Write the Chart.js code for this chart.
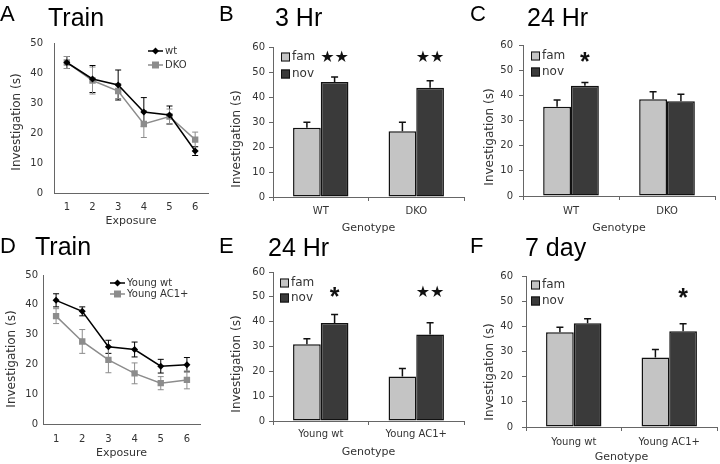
<!DOCTYPE html>
<html>
<head>
<meta charset="utf-8">
<script src="https://cdn.jsdelivr.net/npm/chart.js@4.4.1/dist/chart.umd.min.js"></script>
<style>
  html, body { margin: 0; padding: 0; background: #fff; }
  #fig { position: relative; width: 720px; height: 464px; overflow: hidden; background: #fff; }
  #fig canvas { position: absolute; }
  .lbl { position: absolute; color: #000; white-space: nowrap; line-height: 1; font-family: "Liberation Sans", Arial, sans-serif; }
  .ytitle { position: absolute; font-family: "DejaVu Sans", Verdana, sans-serif; font-size: 12px; color: #333;
            white-space: nowrap; transform: translate(-50%, -50%) rotate(-90deg); }
</style>
</head>
<body>
<div id="fig">
  <canvas id="panelA" width="240" height="240" style="left:0;top:0"></canvas>
  <canvas id="panelB" width="240" height="240" style="left:240px;top:0"></canvas>
  <canvas id="panelC" width="240" height="240" style="left:480px;top:0"></canvas>
  <canvas id="panelD" width="240" height="240" style="left:0;top:232px"></canvas>
  <canvas id="panelE" width="240" height="240" style="left:240px;top:232px"></canvas>
  <canvas id="panelF" width="240" height="240" style="left:480px;top:232px"></canvas>
</div>
<script>
// ---- data ----
const exposures = ['1', '2', '3', '4', '5', '6'];

// A: Train (wt vs DKO)
const trainWt = [43.5, 38, 36, 27, 26, 14];
const trainWtErr = [2, 4.5, 5, 4.8, 3, 1.5];
const trainDko = [43.5, 37.5, 34, 23, 25.5, 17.8];
const trainDkoErr = [2, 4.5, 2.5, 4.5, 2.5, 2.5];

// D: Train (young wt vs young AC1+)
const youngWt = [41.5, 37.8, 25.9, 25, 19.4, 19.9];
const youngWtErr = [2.2, 1.5, 2.2, 2.5, 2.3, 2.4];
const youngAc1 = [36.2, 27.7, 21.5, 17, 13.7, 14.8];
const youngAc1Err = [2.5, 4, 4.3, 3.5, 2.2, 3];

const genotypes = ['WT', 'DKO'];
const youngGenotypes = ['Young wt', 'Young AC1+'];

// B: 3 Hr
const hr3Fam = [27.7, 26.3];
const hr3FamErr = [2.2, 3.6];
const hr3Nov = [46, 43.7];
const hr3NovErr = [2, 2.8];
const hr3Stars = ['**', '**'];

// C: 24 Hr
const hr24Fam = [35.5, 38.4];
const hr24FamErr = [2.6, 3];
const hr24Nov = [43.8, 37.6];
const hr24NovErr = [1.3, 2.8];
const hr24Stars = ['*', ''];

// E: 24 Hr (young)
const young24Fam = [30.9, 17.9];
const young24FamErr = [2.2, 3.2];
const young24Nov = [39.5, 34.8];
const young24NovErr = [3.4, 4.8];
const young24Stars = ['*', '**'];

// F: 7 day (young)
const day7Fam = [37.6, 27.6];
const day7FamErr = [2, 3.2];
const day7Nov = [41.2, 38];
const day7NovErr = [1.8, 3];
const day7Stars = ['', '*'];

const famColor = '#c4c4c4';
const novColor = '#3a3a3a';
const axisColor = '#666';
const textColor = '#333';
const tickFont = { family: 'DejaVu Sans', size: 10 };
const H = 240;

// error bars from the datasets' "errors" arrays
function errorBars(both, cap, width) {
  function draw(chart) {
    const ctx = chart.ctx, y = chart.scales.y;
    ctx.save();
    ctx.lineWidth = width;
    chart.data.datasets.forEach((ds, i) => {
      ctx.strokeStyle = ds.errColor;
      chart.getDatasetMeta(i).data.forEach((el, j) => {
        const v = ds.data[j], e = ds.errors[j];
        const top = y.getPixelForValue(v + e);
        const bot = y.getPixelForValue(both ? v - e : v);
        ctx.beginPath();
        ctx.moveTo(el.x, top); ctx.lineTo(el.x, bot);
        ctx.moveTo(el.x - cap, top); ctx.lineTo(el.x + cap, top);
        if (both) { ctx.moveTo(el.x - cap, bot); ctx.lineTo(el.x + cap, bot); }
        ctx.stroke();
      });
    });
    ctx.restore();
  }
  return both ? { id: 'errLine', beforeDatasetsDraw: draw } : { id: 'errBar', afterDatasetsDraw: draw };
}

// significance marks above the "nov" bars
function starMarks(marks, level) {
  return {
    id: 'stars',
    afterDatasetsDraw(chart) {
      const ctx = chart.ctx;
      const meta = chart.getDatasetMeta(1);
      const y = chart.scales.y.getPixelForValue(level);
      ctx.save();
      ctx.fillStyle = '#111';
      ctx.textAlign = 'center';
      marks.forEach((m, j) => {
        if (!m) return;
        const x = meta.data[j].x;
        if (m === '**') {
          ctx.font = '16px "DejaVu Sans"';
          ctx.textBaseline = 'middle';
          ctx.fillText('\u2605\u2605', x, y);
        } else {
          ctx.font = 'bold 25px "Liberation Sans"';
          ctx.textBaseline = 'alphabetic';
          ctx.fillText('*', x, y + 12);
        }
      });
      ctx.restore();
    }
  };
}

// legend drawn inside the plot, top left
function barLegend(lg) {
  return {
    id: 'barLegend',
    afterDraw(chart) {
      const ctx = chart.ctx, ca = chart.chartArea;
      ctx.save();
      chart.data.datasets.forEach((ds, i) => {
        const bx = ca.left + lg.x, cy = ca.top + lg.y + i * lg.dy;
        ctx.fillStyle = ds.backgroundColor;
        ctx.fillRect(bx, cy - 4.5, 9, 9);
        ctx.strokeStyle = '#111';
        ctx.lineWidth = 1;
        ctx.strokeRect(bx + 0.5, cy - 4, 8, 8);
        ctx.fillStyle = textColor;
        ctx.font = '12px "DejaVu Sans"';
        ctx.textBaseline = 'middle';
        ctx.fillText(ds.label, bx + 11, cy);
      });
      ctx.restore();
    }
  };
}

function lineLegend(lg) {
  return {
    id: 'lineLegend',
    afterDraw(chart) {
      const ctx = chart.ctx, ca = chart.chartArea;
      ctx.save();
      chart.data.datasets.forEach((ds, i) => {
        const x0 = ca.left + lg.x, cy = ca.top + lg.y + i * lg.dy, x1 = x0 + 15;
        ctx.strokeStyle = ds.borderColor;
        ctx.lineWidth = 1.5;
        ctx.beginPath(); ctx.moveTo(x0, cy); ctx.lineTo(x1, cy); ctx.stroke();
        ctx.fillStyle = ds.borderColor;
        const mx = (x0 + x1) / 2;
        ctx.beginPath();
        if (ds.pointStyle === 'rectRot') {
          ctx.moveTo(mx, cy - 3.5); ctx.lineTo(mx + 3.5, cy); ctx.lineTo(mx, cy + 3.5); ctx.lineTo(mx - 3.5, cy);
        } else {
          ctx.rect(mx - 3.5, cy - 3.5, 7, 7);
        }
        ctx.fill();
        ctx.fillStyle = textColor;
        ctx.font = '10px "DejaVu Sans"';
        ctx.textBaseline = 'middle';
        ctx.fillText(ds.label, x1 + 2, cy);
      });
      ctx.restore();
    }
  };
}

function scalesFor(box, isBar) {
  const tl = isBar ? 4 : 0;
  return {
    x: {
      offset: true,
      grid: { display: isBar, drawOnChartArea: false, drawTicks: isBar, tickLength: tl, color: axisColor, offset: true },
      border: { display: true, color: axisColor, width: 1 },
      ticks: { font: tickFont, color: textColor, maxRotation: 0, autoSkip: false,
               padding: box.xTick - box.b - tl - 6 },
      title: { display: true, text: box.xTitle, font: { family: 'DejaVu Sans', size: 11 }, color: textColor, padding: 0 },
      afterFit: s => { s.height = H - box.padB - box.b; }
    },
    y: {
      min: 0, max: box.max,
      grid: { display: isBar, drawOnChartArea: false, drawTicks: isBar, tickLength: tl, color: axisColor },
      border: { display: true, color: axisColor, width: 1 },
      ticks: { stepSize: 10, font: tickFont, color: textColor, padding: box.yPad },
      afterFit: s => { s.width = box.l; }
    }
  };
}

function baseOptions(box, isBar) {
  box.padB = H - box.xTitleC - 6.6;
  return {
    responsive: false,
    animation: false,
    devicePixelRatio: 1,
    events: [],
    layout: { padding: { left: 0, top: box.t, right: 240 - box.r, bottom: box.padB } },
    plugins: { legend: { display: false }, tooltip: { enabled: false } },
    scales: scalesFor(box, isBar)
  };
}

function linePanel(id, box, lg, s1, e1, s2, e2, names) {
  new Chart(document.getElementById(id), {
    type: 'line',
    data: {
      labels: exposures,
      datasets: [
        { label: names[0], data: s1, errors: e1, errColor: '#000', borderColor: '#000', backgroundColor: '#000',
          borderWidth: 1.5, pointStyle: 'rectRot', pointRadius: 3.5, pointBorderWidth: 0, tension: 0 },
        { label: names[1], data: s2, errors: e2, errColor: '#8c8c8c', borderColor: '#8c8c8c', backgroundColor: '#8c8c8c',
          borderWidth: 1.5, pointStyle: 'rect', pointRadius: 4.5, pointBorderWidth: 0, tension: 0 }
      ]
    },
    options: baseOptions(box, false),
    plugins: [errorBars(true, 3, 1), lineLegend(lg)]
  });
}

function barPanel(id, box, lg, cats, fam, famErr, nov, novErr, stars, level) {
  const barStyle = { borderColor: '#111', borderWidth: 1.5, borderSkipped: false,
                     barPercentage: 1, categoryPercentage: 0.58, errColor: '#111' };
  new Chart(document.getElementById(id), {
    type: 'bar',
    data: {
      labels: cats,
      datasets: [
        Object.assign({ label: 'fam', data: fam, errors: famErr, backgroundColor: famColor }, barStyle),
        Object.assign({ label: 'nov', data: nov, errors: novErr, backgroundColor: novColor }, barStyle)
      ]
    },
    options: baseOptions(box, true),
    plugins: [errorBars(false, 3.5, 1.5), starMarks(stars, level), barLegend(lg)]
  });
}

linePanel('panelA', { l: 54, t: 43, r: 208, b: 193, max: 50, yPad: 11, xTick: 207, xTitleC: 221, xTitle: 'Exposure' },
  { x: 94, y: 8, dy: 14 }, trainWt, trainWtErr, trainDko, trainDkoErr, ['wt', 'DKO']);
barPanel('panelB', { l: 33, t: 47, r: 224, b: 197, max: 60, yPad: 4, xTick: 211, xTitleC: 228, xTitle: 'Genotype' },
  { x: 8, y: 10, dy: 17 }, genotypes, hr3Fam, hr3FamErr, hr3Nov, hr3NovErr, hr3Stars, 55.5);
barPanel('panelC', { l: 43, t: 45, r: 235, b: 196, max: 60, yPad: 6, xTick: 211, xTitleC: 228, xTitle: 'Genotype' },
  { x: 8, y: 11, dy: 16 }, genotypes, hr24Fam, hr24FamErr, hr24Nov, hr24NovErr, hr24Stars, 54.8);
linePanel('panelD', { l: 43, t: 43, r: 200, b: 192, max: 50, yPad: 5, xTick: 207, xTitleC: 221, xTitle: 'Exposure' },
  { x: 67, y: 8, dy: 11 }, youngWt, youngWtErr, youngAc1, youngAc1Err, ['Young wt', 'Young AC1+']);
barPanel('panelE', { l: 33, t: 40, r: 224, b: 189, max: 60, yPad: 4, xTick: 202, xTitleC: 220, xTitle: 'Genotype' },
  { x: 7, y: 11, dy: 15 }, youngGenotypes, young24Fam, young24FamErr, young24Nov, young24NovErr, young24Stars, 51.5);
barPanel('panelF', { l: 46, t: 44, r: 237, b: 195, max: 60, yPad: 9, xTick: 210, xTitleC: 225, xTitle: 'Genotype' },
  { x: 5, y: 9, dy: 16 }, youngGenotypes, day7Fam, day7FamErr, day7Nov, day7NovErr, day7Stars, 52.7);

// panel letters, titles and y axis titles
const fig = document.getElementById('fig');
const headings = [
  ['A', 0, 22, 22], ['Train', 48, 26, 25],
  ['B', 219, 22, 22], ['3 Hr', 275, 26, 25],
  ['C', 470, 22, 22], ['24 Hr', 527, 26, 25],
  ['D', 0, 254, 22], ['Train', 35, 255, 25],
  ['E', 219, 254, 22], ['24 Hr', 268, 256, 25],
  ['F', 470, 254, 22], ['7 day', 525, 256, 25]
];
headings.forEach(([text, x, base, size]) => {
  const el = document.createElement('div');
  el.className = 'lbl';
  el.textContent = text;
  el.style.fontSize = size + 'px';
  el.style.left = x + 'px';
  el.style.top = (base - 0.8465 * size) + 'px';
  fig.appendChild(el);
});
const yTitlePos = [[16, 122], [236, 139], [489, 137], [11, 359], [236, 364], [489, 372]];
yTitlePos.forEach(([x, y]) => {
  const el = document.createElement('div');
  el.className = 'ytitle';
  el.textContent = 'Investigation (s)';
  el.style.left = x + 'px';
  el.style.top = y + 'px';
  fig.appendChild(el);
});
</script>
</body>
</html>
